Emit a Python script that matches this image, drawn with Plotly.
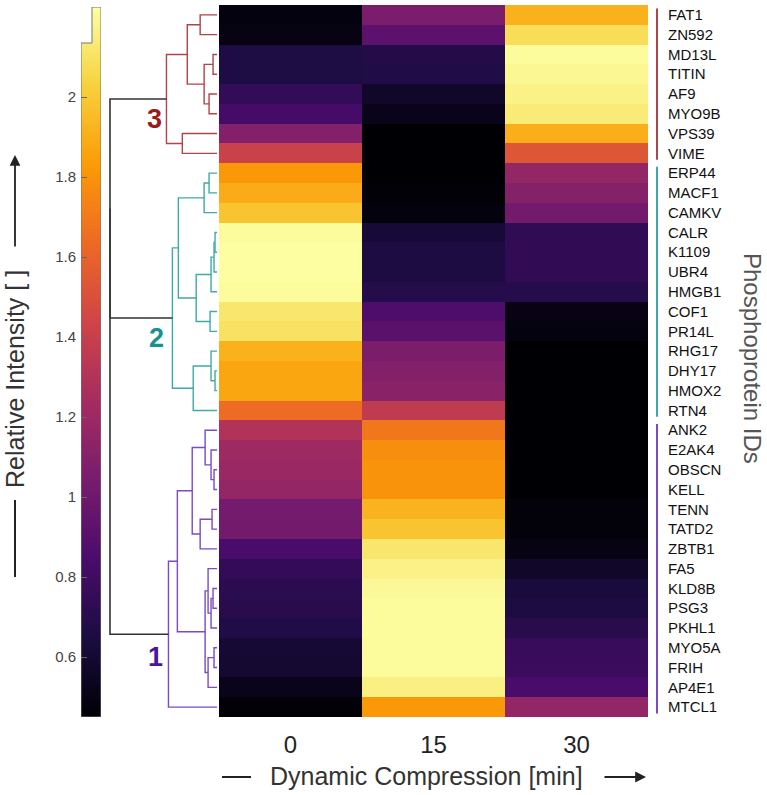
import plotly.graph_objects as go
import numpy as np

# ---- data ----
times = [0, 15, 30]
proteins = ["FAT1", "ZN592", "MD13L", "TITIN", "AF9", "MYO9B", "VPS39", "VIME",
            "ERP44", "MACF1", "CAMKV", "CALR", "K1109", "UBR4", "HMGB1", "COF1",
            "PR14L", "RHG17", "DHY17", "HMOX2", "RTN4",
            "ANK2", "E2AK4", "OBSCN", "KELL", "TENN", "TATD2", "ZBTB1", "FA5",
            "KLD8B", "PSG3", "PKHL1", "MYO5A", "FRIH", "AP4E1", "MTCL1"]
cluster = [3] * 8 + [2] * 13 + [1] * 15

t0 = [0.49, 0.50, 0.66, 0.66, 0.75, 0.82, 1.09, 1.41,
      1.82, 1.89, 1.98, 2.21, 2.22, 2.22, 2.21, 2.12, 2.10, 1.91, 1.87, 1.87, 1.64,
      1.30, 1.21, 1.19, 1.16, 1.03, 1.02, 0.84, 0.75, 0.72, 0.70, 0.67, 0.61, 0.60, 0.52, 0.46]
t15 = [1.05, 0.92, 0.68, 0.67, 0.57, 0.52, 0.45, 0.45,
       0.45, 0.46, 0.48, 0.62, 0.65, 0.65, 0.69, 0.86, 0.91, 1.06, 1.09, 1.12, 1.36,
       1.69, 1.78, 1.80, 1.80, 1.92, 1.98, 2.12, 2.17, 2.20, 2.21, 2.21, 2.21, 2.21, 2.16, 1.82]
t30 = [1.91, 2.08, 2.21, 2.19, 2.17, 2.14, 1.90, 1.53,
       1.16, 1.10, 1.02, 0.73, 0.74, 0.74, 0.69, 0.50, 0.49, 0.45, 0.45, 0.45, 0.45,
       0.45, 0.45, 0.45, 0.45, 0.47, 0.47, 0.50, 0.57, 0.63, 0.65, 0.70, 0.77, 0.78, 0.84, 1.16]

# linkage: (node, left, right, height)
links = [
    ("m0", "FAT1", "ZN592", 17), ("m1", "MD13L", "TITIN", 4), ("m2", "AF9", "MYO9B", 8),
    ("m3", "m1", "m2", 13), ("m4", "m0", "m3", 30), ("m5", "VPS39", "VIME", 35),
    ("m6", "m4", "m5", 51),
    ("m7", "ERP44", "MACF1", 8), ("m8", "m7", "CAMKV", 13), ("m9", "CALR", "K1109", 2),
    ("m10", "m9", "UBR4", 3), ("m11", "m10", "HMGB1", 6), ("m12", "COF1", "PR14L", 7),
    ("m13", "m11", "m12", 21), ("m14", "m8", "m13", 39), ("m15", "DHY17", "HMOX2", 2),
    ("m16", "RHG17", "m15", 6), ("m17", "m16", "RTN4", 24), ("m18", "m14", "m17", 45),
    ("m19", "OBSCN", "KELL", 3), ("m20", "E2AK4", "m19", 6), ("m21", "ANK2", "m20", 12),
    ("m22", "TENN", "TATD2", 5), ("m23", "m22", "ZBTB1", 17), ("m24", "m21", "m23", 25),
    ("m25", "KLD8B", "PSG3", 4), ("m26", "m25", "PKHL1", 6), ("m27", "FA5", "m26", 9),
    ("m28", "MYO5A", "FRIH", 3), ("m29", "m28", "AP4E1", 9), ("m30", "m27", "m29", 12),
    ("m31", "m24", "m30", 40), ("m32", "m31", "MTCL1", 49),
    ("m33", "m6", "m18", 108), ("m34", "m33", "m32", 108),
]

line_col = {3: "#b0444b", 2: "#3eaaa7", 1: "#7a4bc2", 0: "#333333"}
num_col = {3: "#9b1b1b", 2: "#16928f", 1: "#4a159f"}

W, H = 767, 795
def px(x): return x / W
def py(y): return 1 - y / H

zmin, zmax = 0.45, 2.225
fig = go.Figure()

# heatmap
z = np.array([t0, t15, t30]).T
fig.add_trace(go.Heatmap(
    z=z, x=times, y=list(range(len(proteins))),
    colorscale="Inferno", zmin=zmin, zmax=zmax, showscale=False,
    xaxis="x", yaxis="y", hoverinfo="skip"))

# colour bar drawn as its own heatmap
cb_edges = np.linspace(zmin, zmax, 301)
cb_mid = (cb_edges[:-1] + cb_edges[1:]) / 2
cb_z = [[v if v < 2.135 else None, v] for v in cb_mid]
fig.add_trace(go.Heatmap(
    z=cb_z, x=[0, 11, 20], y=cb_edges, colorscale="Inferno", zmin=zmin, zmax=zmax,
    showscale=False, xaxis="x2", yaxis="y2", hoverinfo="skip"))

# dendrogram
pos = {p: i for i, p in enumerate(proteins)}
hgt = {p: 0 for p in proteins}
grp = {p: c for p, c in zip(proteins, cluster)}
segs = {k: ([], []) for k in line_col}
for name, a, b, h in links:
    g = grp[a] if grp[a] == grp[b] else 0
    xs, ys = segs[g]
    xs += [hgt[a], h, h, hgt[b], None]
    ys += [pos[a], pos[a], pos[b], pos[b], None]
    pos[name] = (pos[a] + pos[b]) / 2
    hgt[name] = h
    grp[name] = g
for g, (xs, ys) in segs.items():
    fig.add_trace(go.Scatter(x=xs, y=ys, mode="lines", xaxis="x3", yaxis="y",
                             line=dict(color=line_col[g], width=1.4 if g else 1.6),
                             hoverinfo="skip", showlegend=False))

# cluster bars on the right
shapes = []
for c in (3, 2, 1):
    rows = [i for i, k in enumerate(cluster) if k == c]
    shapes.append(dict(type="line", xref="paper", yref="y", x0=px(657), x1=px(657),
                       y0=rows[0] - 0.32, y1=rows[-1] + 0.32,
                       line=dict(color=line_col[c], width=2)))
# colour bar outline
shapes.append(dict(type="path", xref="x2", yref="y2",
                   path=f"M 0,{zmin} L 0,2.135 L 11,2.135 L 11,{zmax} L 20,{zmax} L 20,{zmin} Z",
                   line=dict(color="#777777", width=1)))
# axis-title dashes
shapes.append(dict(type="line", xref="paper", yref="paper", x0=px(15), x1=px(15),
                   y0=py(500), y1=py(577), line=dict(color="#222", width=2)))
shapes.append(dict(type="line", xref="paper", yref="paper", x0=px(222), x1=px(251),
                   y0=py(777), y1=py(777), line=dict(color="#222", width=2)))

c_mid = dict(xref="paper", yref="paper", xanchor="center", yanchor="middle")
ann = [
    dict(text="Relative Intensity [ ]", x=px(15), y=py(379), showarrow=False,
         textangle=-90, font=dict(size=25, color="#333"), **c_mid),
    dict(text="", x=px(15), y=py(155), ax=0, ay=93, showarrow=True, arrowhead=2,
         arrowsize=1.2, arrowwidth=1.8, arrowcolor="#222", **c_mid),
    dict(text="Dynamic Compression [min]", x=px(426), y=py(776), showarrow=False,
         font=dict(size=25, color="#333"), **c_mid),
    dict(text="", x=px(646), y=py(777), ax=-43, ay=0, showarrow=True, arrowhead=2,
         arrowsize=1.2, arrowwidth=1.8, arrowcolor="#222", **c_mid),
    dict(text="Phosphoprotein IDs", x=px(753), y=py(358), showarrow=False,
         textangle=90, font=dict(size=24, color="#555"), **c_mid),
]
for c, (x, y) in {3: (154, 119), 2: (156, 338), 1: (155, 657)}.items():
    ann.append(dict(text=f"<b>{c}</b>", x=px(x), y=py(y), showarrow=False,
                    font=dict(size=27, color=num_col[c]), **c_mid))

fig.update_layout(
    width=W, height=H, margin=dict(l=0, r=0, t=0, b=0),
    paper_bgcolor="white", plot_bgcolor="white",
    font=dict(family="Liberation Sans, Arial, sans-serif", color="#222"),
    showlegend=False,
    xaxis=dict(domain=[px(219), px(648)], range=[-7.5, 37.5], tickvals=times,
               ticktext=[str(t) for t in times], ticks="", showgrid=False, zeroline=False,
               tickfont=dict(size=24, color="#222"), ticklabelstandoff=11),
    yaxis=dict(domain=[py(717), py(5)], range=[35.5, -0.5], side="right",
               tickvals=list(range(len(proteins))), ticktext=proteins, ticks="",
               showgrid=False, zeroline=False, tickfont=dict(size=15, color="#111"),
               ticklabelstandoff=19),
    xaxis2=dict(domain=[px(81), px(101)], range=[0, 20], anchor="y2", visible=False),
    yaxis2=dict(domain=[py(717), py(7)], range=[zmin, zmax], anchor="x2",
                tickvals=[0.6, 0.8, 1, 1.2, 1.4, 1.6, 1.8, 2],
                ticktext=["0.6", "0.8", "1", "1.2", "1.4", "1.6", "1.8", "2"],
                ticks="inside", ticklen=6, tickcolor="#666", showgrid=False,
                zeroline=False, tickfont=dict(size=15, color="#444"), ticklabelstandoff=4),
    xaxis3=dict(domain=[px(108), px(217)], range=[110, 0], anchor="y", visible=False),
    shapes=shapes, annotations=ann,
)

fig.write_html("out.html", config={"displayModeBar": False},
               post_script="document.body.style.margin='0';")
